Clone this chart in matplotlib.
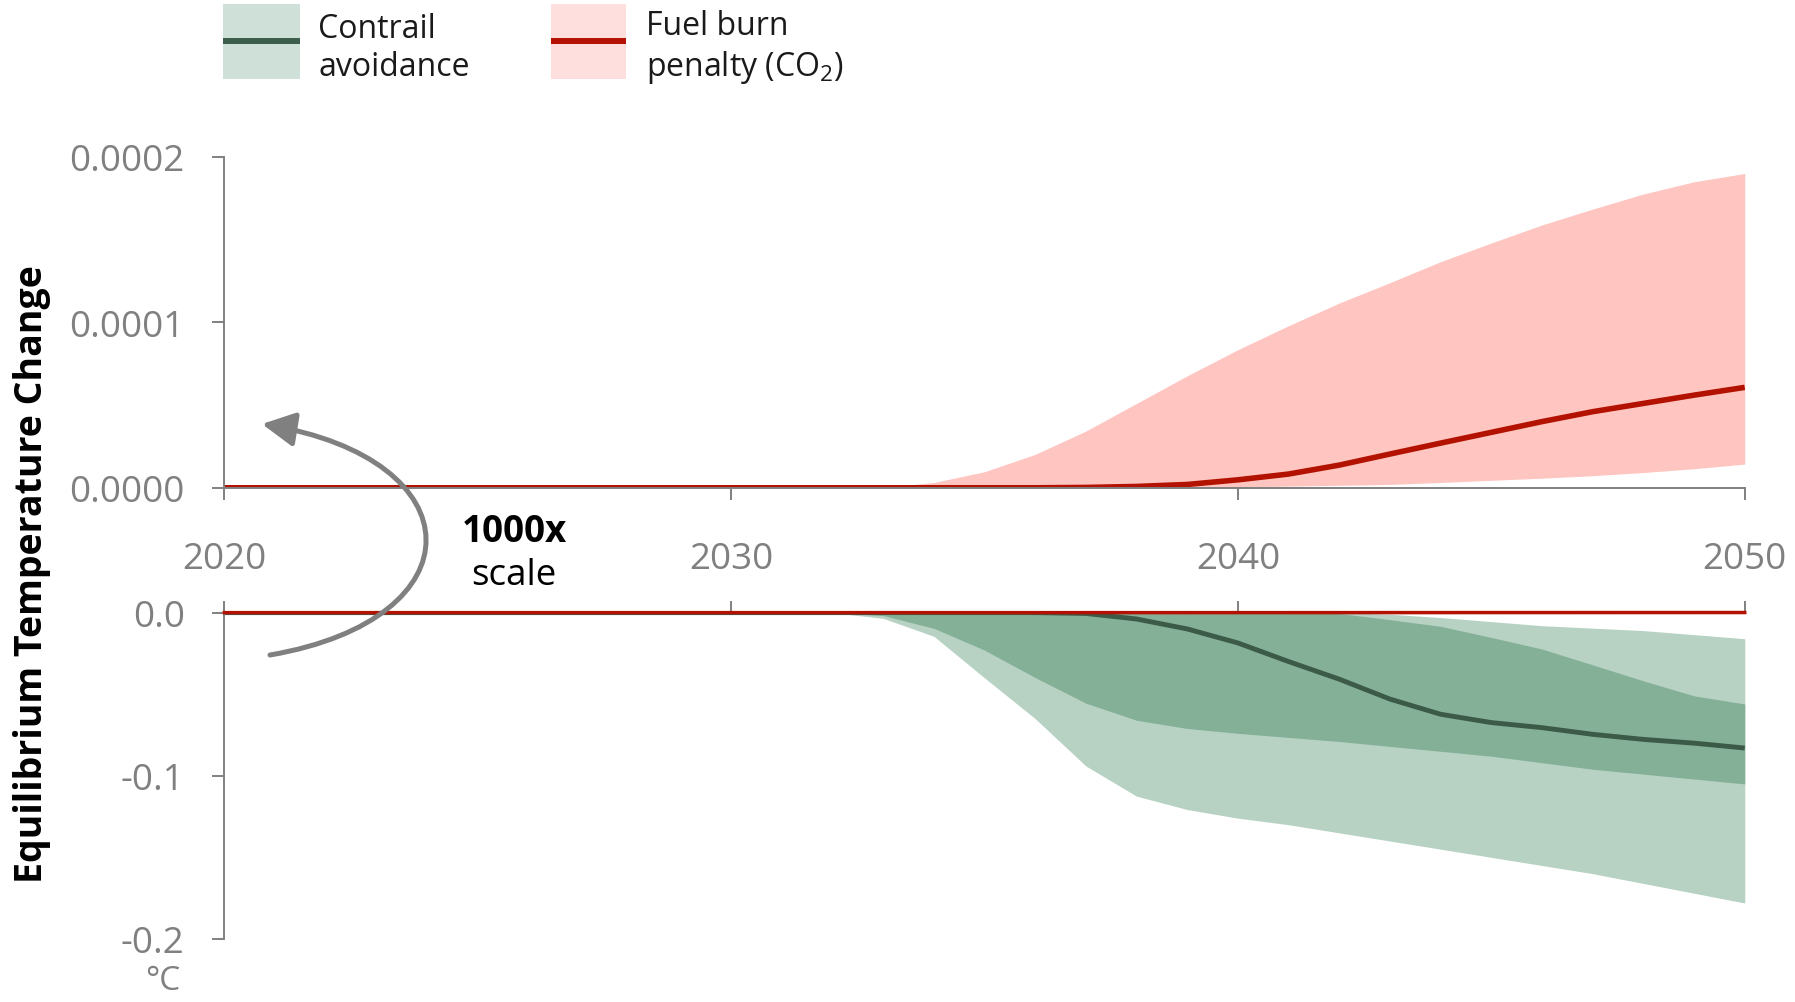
import matplotlib
matplotlib.use("Agg")
import matplotlib.pyplot as plt
from matplotlib.patches import Rectangle, FancyArrowPatch
from matplotlib.lines import Line2D
from matplotlib.path import Path

plt.rcParams['font.family'] = ['Open Sans', 'DejaVu Sans']
plt.rcParams['mathtext.default'] = 'regular'

# data (degC), years 2020-2050; 2020-2029 are all zero
years = list(range(2020, 2051))
lead = [0] * 10

# fuel burn penalty (CO2), 2030-2050
fuel_hi = lead + [0, 0, 0, 0, 3.2e-6, 9.7e-6, 2.02e-5, 3.43e-5, 5.1e-5, 6.77e-5, 8.35e-5,
                  9.8e-5, 1.117e-4, 1.24e-4, 1.367e-4, 1.48e-4, 1.589e-4, 1.685e-4, 1.776e-4,
                  1.85e-4, 1.90e-4]
fuel_mid = lead + [0, 0, 0, 0, 0, 0, 0, 2e-7, 8e-7, 2e-6, 4.8e-6,
                   8.3e-6, 1.37e-5, 2.04e-5, 2.7e-5, 3.35e-5, 4.0e-5, 4.6e-5, 5.1e-5,
                   5.6e-5, 6.07e-5]
fuel_lo = lead + [0, 0, 0, 0, 0, 0, 0, 0, 0, 0, 5e-7,
                  1e-6, 1.5e-6, 2e-6, 3.2e-6, 4.5e-6, 5.8e-6, 7.3e-6, 9.2e-6,
                  1.15e-5, 1.43e-5]

# contrail avoidance, 2030-2050
con_outer_lo = lead + [0, 0, 0, -0.0035, -0.0145, -0.040, -0.065, -0.094, -0.1125, -0.1207, -0.126,
                       -0.130, -0.135, -0.140, -0.145, -0.150, -0.155, -0.160, -0.166, -0.172, -0.178]
con_outer_hi = lead + [0, 0, 0, 0, 0, 0, 0, 0, 0, 0, 0,
                       0, 0, -0.001, -0.003, -0.0055, -0.008, -0.0095, -0.011, -0.0135, -0.016]
con_inner_lo = lead + [0, 0, 0, -0.0018, -0.0096, -0.023, -0.0398, -0.0555, -0.066, -0.071, -0.074,
                       -0.0765, -0.079, -0.082, -0.085, -0.088, -0.092, -0.096, -0.099, -0.102, -0.105]
con_inner_hi = lead + [0, 0, 0, 0, 0, 0, 0, 0, 0, 0, 0,
                       0, -0.0005, -0.0043, -0.0084, -0.0152, -0.0223, -0.032, -0.0418, -0.051, -0.056]
con_mid = lead + [0, 0, 0, 0, 0, 0, 0, -0.0005, -0.0039, -0.010, -0.0186,
                  -0.030, -0.0408, -0.053, -0.0623, -0.0674, -0.0705, -0.0746, -0.0777, -0.080, -0.083]

xticks = [2020, 2030, 2040, 2050]

GRAY = '#808080'
RED = '#b31200'
PINK = '#fec5c1'
GREEN_L = '#b7d2c3'
GREEN_D = '#84b098'
GREEN_LINE = '#3b5a48'
FS = 26.5

W, H = 1795, 1003
fig = plt.figure(figsize=(W / 100, H / 100), dpi=100)
ax1 = fig.add_axes([0.125, 0.5127, 0.847, 0.3298])
ax2 = fig.add_axes([0.125, 0.0629, 0.847, 0.3253])

# top: fuel burn penalty
ax1.fill_between(years, fuel_lo, fuel_hi, color=PINK, lw=0)
ax1.plot(years, fuel_mid, color=RED, lw=4, solid_capstyle='butt')
ax1.set_xlim(2020, 2050)
ax1.set_ylim(0, 0.0002)
ax1.set_yticks([0, 0.0001, 0.0002])
ax1.set_yticklabels(['0.0000', '0.0001', '0.0002'])
ax1.set_xticks(xticks)
ax1.set_xticklabels([str(t) for t in xticks])
for s in ['top', 'right']:
    ax1.spines[s].set_visible(False)
for s in ['left', 'bottom']:
    ax1.spines[s].set_color(GRAY)
    ax1.spines[s].set_linewidth(1.4)
ax1.tick_params(axis='both', colors=GRAY, labelcolor=GRAY, labelsize=FS, length=8.6, width=1.4)
ax1.tick_params(axis='y', pad=20)
ax1.tick_params(axis='x', pad=30)

# bottom: contrail avoidance (fuel penalty is ~0 on this scale)
ax2.fill_between(years, con_outer_lo, con_outer_hi, color=GREEN_L, lw=0)
ax2.fill_between(years, con_inner_lo, con_inner_hi, color=GREEN_D, lw=0)
ax2.plot(years, con_mid, color=GREEN_LINE, lw=3.5, solid_capstyle='butt')
ax2.plot(years, fuel_mid, color=RED, lw=2.5, zorder=3, clip_on=False)
ax2.set_xlim(2020, 2050)
ax2.set_ylim(-0.2, 0)
ax2.set_yticks([-0.2, -0.1, 0])
ax2.set_yticklabels(['-0.2', '-0.1', '0.0'])
ax2.set_xticks(xticks)
ax2.xaxis.tick_top()
ax2.tick_params(axis='x', labeltop=False)
for s in ['bottom', 'right']:
    ax2.spines[s].set_visible(False)
for s in ['left', 'top']:
    ax2.spines[s].set_color(GRAY)
    ax2.spines[s].set_linewidth(1.4)
ax2.tick_params(axis='both', colors=GRAY, labelcolor=GRAY, labelsize=FS, length=8.6, width=1.4)
ax2.tick_params(axis='y', pad=20)

# labels
fig.text(0.018, 0.428, 'Equilibrium Temperature Change', rotation=90, fontsize=27,
         fontweight='bold', ha='center', va='center', color='black')
fig.text(0.0906, 0.013, '°C', fontsize=24, color=GRAY, ha='center', va='baseline')
fig.text(0.2864, 0.4696, '1000x', fontsize=FS, fontweight='bold', ha='center', va='center')
fig.text(0.2864, 0.4262, 'scale', fontsize=FS, ha='center', va='center')

# curved arrow (cubic bezier, pixel positions from the top-left corner)
pts = [(270, 656), (480, 620), (477, 460), (262, 425)]
verts = [(x / W, 1 - y / H) for x, y in pts]
arr = FancyArrowPatch(path=Path(verts, [Path.MOVETO, Path.CURVE4, Path.CURVE4, Path.CURVE4]),
                      transform=fig.transFigure,
                      arrowstyle='-|>,head_length=1.0,head_width=0.52', mutation_scale=20,
                      color=GRAY, lw=3.6)
fig.add_artist(arr)

# legend
fig.add_artist(Rectangle((0.1242, 0.920), 0.0429, 0.0752, transform=fig.transFigure,
                         color='#cfe0d8', lw=0))
fig.add_artist(Line2D([0.1242, 0.1671], [0.958, 0.958], transform=fig.transFigure,
                      color='#3d5e4c', lw=4.3, solid_capstyle='butt'))
fig.text(0.1773, 0.952, 'Contrail\navoidance', fontsize=23, color='#1a1a1a',
         ha='left', va='center', linespacing=1.2)
fig.add_artist(Rectangle((0.3069, 0.920), 0.0418, 0.0752, transform=fig.transFigure,
                         color='#ffdfdd', lw=0))
fig.add_artist(Line2D([0.3069, 0.3487], [0.958, 0.958], transform=fig.transFigure,
                      color=RED, lw=4.3, solid_capstyle='butt'))
fig.text(0.3599, 0.952, 'Fuel burn\npenalty (CO$_2$)', fontsize=23, color='#1a1a1a',
         ha='left', va='center', linespacing=1.2)

fig.savefig('out.png', dpi=100)
